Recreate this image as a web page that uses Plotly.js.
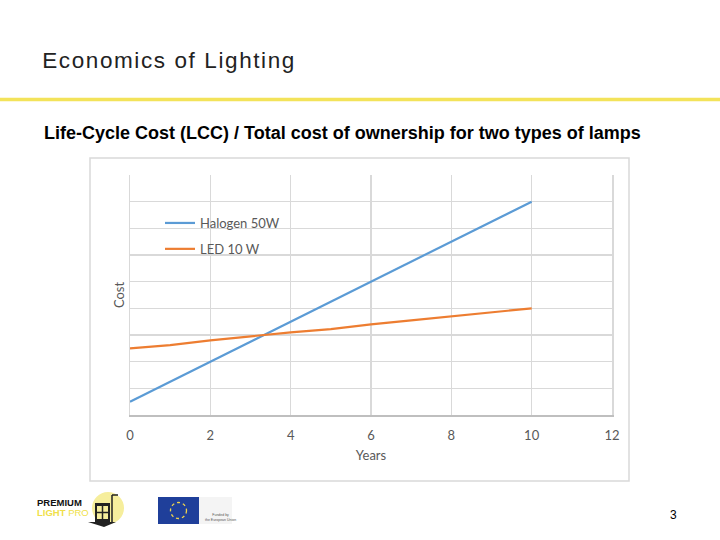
<!DOCTYPE html>
<html>
<head>
<meta charset="utf-8">
<script src="https://cdn.plot.ly/plotly-3.0.1.min.js"></script>
<style>
html,body{margin:0;padding:0;background:#fff;}
#chart{width:720px;height:540px;}
g.annotation[data-index="0"] text{letter-spacing:1.6px;}
</style>
</head>
<body>
<div id="chart"></div>
<script>
// ---- data ----
const years = [0, 1, 2, 3, 4, 5, 6, 7, 8, 9, 10];
const halogenCost = [0.5, 1.25, 2.0, 2.75, 3.5, 4.25, 5.0, 5.75, 6.5, 7.25, 8.0];
const ledCost = [2.5, 2.62, 2.8, 2.95, 3.1, 3.22, 3.4, 3.55, 3.7, 3.85, 4.0];
const seriesNames = ["Halogen 50W", "LED 10 W"];
const xTicks = [0, 2, 4, 6, 8, 10, 12];

const slideTitle = "Economics of Lighting";
const slideSubtitle = "Life-Cycle Cost (LCC) / Total cost of ownership for two types of lamps";
const pageNumber = "3";

// ---- layout helpers (pixel -> paper) ----
const L = 130, R = 612, T = 175, B = 415;
const px = x => (x - L) / (R - L);
const py = y => (B - y) / (B - T);

const chartFont = "Lato, 'Open Sans', sans-serif";
const slideFont = "'Liberation Sans', Arial, sans-serif";
const grid = "#d9d9d9";

const traces = [
  {x: years, y: halogenCost, name: seriesNames[0], legendgroup: "a", mode: "lines",
   line: {color: "#5b9bd5", width: 2.2}},
  {x: years, y: ledCost, name: seriesNames[1], legendgroup: "b", mode: "lines",
   line: {color: "#ed7d31", width: 2.2}}
];

const shapes = [
  // chart frame
  {type: "rect", xref: "paper", yref: "paper", x0: px(90), x1: px(629), y0: py(481), y1: py(158),
   line: {color: "#d9d9d9", width: 1.5}, fillcolor: "rgba(0,0,0,0)", layer: "below"},
  // yellow rule
  {type: "line", xref: "paper", yref: "paper", x0: px(0), x1: px(720), y0: py(99.5), y1: py(99.5),
   line: {color: "#f3e35a", width: 3.5}},
  // Premium Light Pro circle
  {type: "circle", xref: "paper", yref: "paper", x0: px(92), x1: px(124), y0: py(524), y1: py(492),
   fillcolor: "#f6ee9c", line: {width: 0}},
  // building
  {type: "rect", xref: "paper", yref: "paper", x0: px(95), x1: px(110), y0: py(522), y1: py(503),
   fillcolor: "#222", line: {width: 0}},
  {type: "rect", xref: "paper", yref: "paper", x0: px(97), x1: px(108), y0: py(519), y1: py(506),
   fillcolor: "#f6ee9c", line: {width: 0}},
  {type: "line", xref: "paper", yref: "paper", x0: px(97), x1: px(108), y0: py(512.5), y1: py(512.5),
   line: {color: "#222", width: 1.5}},
  {type: "line", xref: "paper", yref: "paper", x0: px(102.5), x1: px(102.5), y0: py(519), y1: py(506),
   line: {color: "#222", width: 1.5}},
  {type: "line", xref: "paper", yref: "paper", x0: px(112), x1: px(112), y0: py(522), y1: py(495),
   line: {color: "#222", width: 1.5}},
  {type: "line", xref: "paper", yref: "paper", x0: px(112), x1: px(118), y0: py(495), y1: py(495),
   line: {color: "#222", width: 1.5}},
  {type: "path", xref: "paper", yref: "paper",
   path: "M " + px(88) + " " + py(522) + " L " + px(116) + " " + py(522) + " L " + px(104) + " " + py(527) + " Z",
   fillcolor: "#222", line: {width: 0}},
  // EU flag
  {type: "rect", xref: "paper", yref: "paper", x0: px(158), x1: px(199), y0: py(524), y1: py(497),
   fillcolor: "#1f3f9a", line: {width: 0}},
  {type: "circle", xref: "paper", yref: "paper", x0: px(170.5), x1: px(186.5), y0: py(518.5), y1: py(502.5),
   fillcolor: "rgba(0,0,0,0)", line: {color: "#f2d64b", width: 1.3, dash: "dot"}},
  {type: "rect", xref: "paper", yref: "paper", x0: px(199), x1: px(232), y0: py(524), y1: py(497),
   fillcolor: "#f4f4f4", line: {width: 0}}
];

const annotations = [
  {text: slideTitle, xref: "paper", yref: "paper", x: px(57), y: py(61), xanchor: "left", yanchor: "middle",
   showarrow: false, font: {family: slideFont, size: 22.5, color: "#222"}},
  {text: "<b>" + slideSubtitle + "</b>", xref: "paper", yref: "paper", x: px(42), y: py(133), xanchor: "left", yanchor: "middle",
   showarrow: false, font: {family: slideFont, size: 18, color: "#000"}},
  {text: pageNumber, xref: "paper", yref: "paper", x: px(673), y: py(515), xanchor: "center", yanchor: "middle",
   showarrow: false, font: {family: slideFont, size: 12, color: "#000"}},
  {text: "<b>PREMIUM</b>", xref: "paper", yref: "paper", x: px(35), y: py(502), xanchor: "left", yanchor: "middle",
   showarrow: false, font: {family: slideFont, size: 9.5, color: "#111"}},
  {text: "<b>LIGHT</b> PRO", xref: "paper", yref: "paper", x: px(35), y: py(512.5), xanchor: "left", yanchor: "middle",
   showarrow: false, font: {family: slideFont, size: 9.5, color: "#f0df4a"}},
  {text: "Funded by<br>the European Union", xref: "paper", yref: "paper", x: px(203), y: py(517), xanchor: "left", yanchor: "middle",
   showarrow: false, font: {family: slideFont, size: 3.5, color: "#555"}}
];

const layout = {
  width: 720, height: 540,
  margin: {l: L, r: 720 - R, t: T, b: 540 - B, pad: 0},
  paper_bgcolor: "#fff", plot_bgcolor: "#fff",
  showlegend: true,
  legend: {x: px(160), y: py(208), xanchor: "left", yanchor: "top", bgcolor: "rgba(255,255,255,0)",
           traceorder: "grouped", tracegroupgap: 6,
           font: {family: chartFont, size: 13, color: "#595959"}, itemwidth: 30},
  xaxis: {range: [0, 12], tickvals: xTicks, showgrid: true, gridcolor: grid, gridwidth: 1.5,
          zeroline: false, showline: true, linecolor: "#bfbfbf", linewidth: 1.5, mirror: false,
          ticks: "outside", ticklen: 8, tickcolor: "rgba(0,0,0,0)",
          tickfont: {family: chartFont, size: 13, color: "#595959"},
          title: {text: "Years", standoff: 9, font: {family: chartFont, size: 13, color: "#595959"}}},
  yaxis: {range: [0, 9], dtick: 1, showgrid: true, gridcolor: grid, gridwidth: 1.5,
          zeroline: false, showline: true, linecolor: grid, linewidth: 1.5, mirror: true,
          showticklabels: false,
          title: {text: "Cost", standoff: 1, font: {family: chartFont, size: 13, color: "#595959"}}},
  shapes: shapes,
  annotations: annotations
};

Plotly.newPlot("chart", traces, layout, {displayModeBar: false, staticPlot: true});
</script>
</body>
</html>
